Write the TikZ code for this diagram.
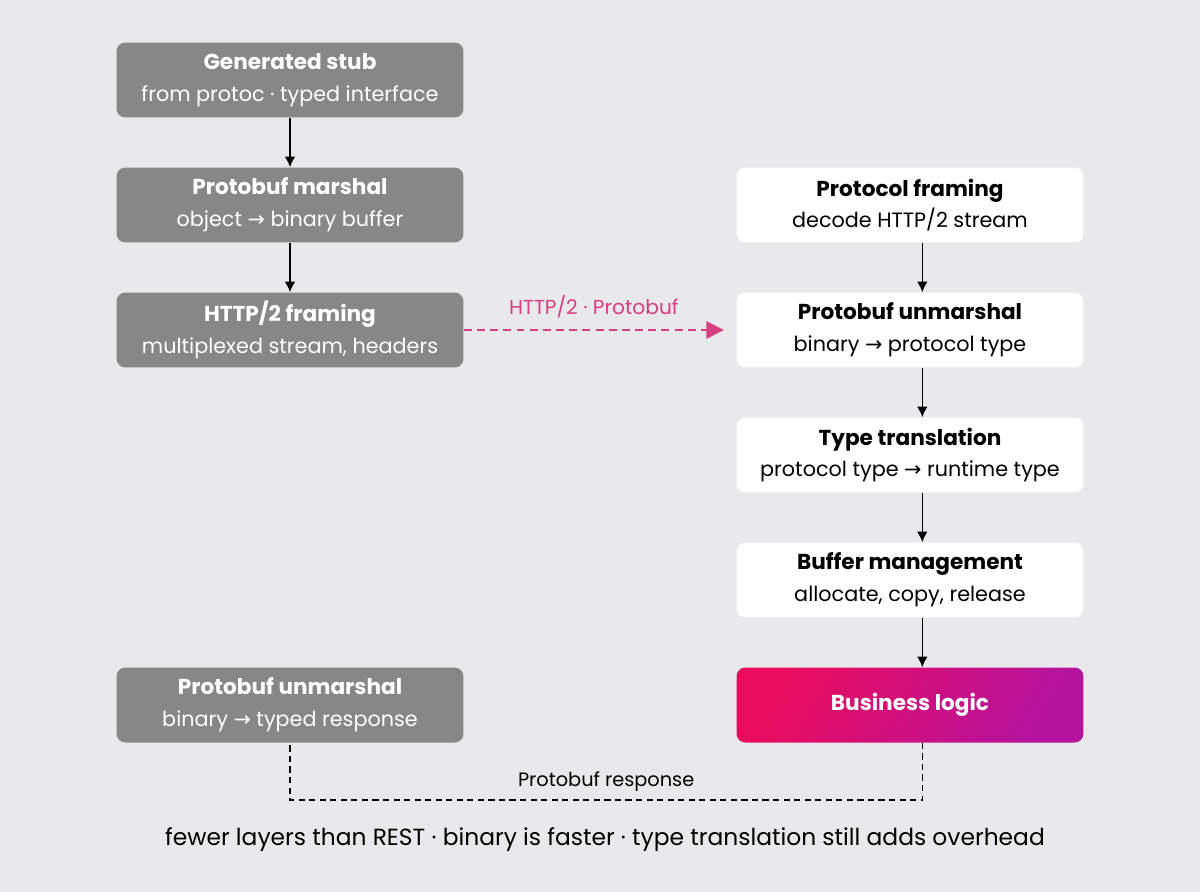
\documentclass[tikz,border=0pt]{standalone}
\usepackage{fontspec}
\setmainfont{Poppins}
\newfontfamily\symfont{DejaVu Sans}
\usepackage{tikz}
\usetikzlibrary{arrows.meta,shapes}
\definecolor{canvas}{HTML}{E9E9EB}
\definecolor{stubgray}{HTML}{878787}
\definecolor{wirepink}{HTML}{D63F80}
\definecolor{bizpink}{HTML}{E90C5C}
\definecolor{bizpurple}{HTML}{B5139F}
\newcommand{\arr}{{\symfont\char"2192}}
\newcommand{\slsh}{/}
\tikzstyle{stage}=[rectangle,rounded corners=5pt,minimum width=6.94cm,minimum height=1.5cm,align=center,inner sep=0pt,font=\fontsize{11.8}{18}\selectfont]
\tikzstyle{client}=[stage,fill=stubgray,text=white]
\tikzstyle{server}=[stage,fill=white,text=black]
\tikzstyle{flow} = [draw,thick,-{Latex[length=6pt,width=6pt]}]
\tikzstyle{ret} = [draw,thick,dash pattern=on 3.5pt off 2.5pt]

\begin{document}
\begin{tikzpicture}[x=0.02cm,y=-0.02cm]
    \fill[canvas] (0,0) rectangle (1200,892);
    \useasboundingbox (0,0) rectangle (1200,892);
    % client side (gray)
    \foreach \pos/\name/\title/\sub in {{(290,80)/gen/Generated stub/from protoc · typed interface},
        {(290,205)/marsh/Protobuf marshal/object \arr\ binary buffer},
        {(290,330)/frame/HTTP\slsh 2 framing/multiplexed stream, headers},
        {(290,705)/unm/Protobuf unmarshal/binary \arr\ typed response}}
        \node[client] (\name) at \pos {{\fontsize{12.3}{18}\selectfont\bfseries \title}\\ \sub};

    % server side (white)
    \foreach \pos/\name/\title/\sub in {{(910,205)/sframe/Protocol framing/decode HTTP\slsh 2 stream},
        {(910,330)/sunm/Protobuf unmarshal/binary \arr\ protocol type},
        {(910,455)/trans/Type translation/protocol type \arr\ runtime type},
        {(910,580)/buf/Buffer management/allocate, copy, release}}
        \node[server] (\name) at \pos {{\fontsize{12.3}{18}\selectfont\bfseries \title}\\ \sub};

    \node[stage,left color=bizpink,right color=bizpurple,shading angle=60,text=white] (biz) at (910,705) {\fontsize{12.3}{18}\selectfont\bfseries Business logic};

    % connect the stages
    \foreach \source/\dest in {gen/marsh, marsh/frame}
        \path[flow] (\source) -- (\dest);
    \foreach \source/\dest in {sframe/sunm, sunm/trans, trans/buf, buf/biz}
        \path[flow] ([xshift=7]\source.south) -- ([xshift=7]\dest.north);

    % over the wire
    \path[draw,thick,dash pattern=on 4.5pt off 3pt,wirepink,-{Triangle[length=10pt,width=10pt]}] (frame.east) -- node[above=3pt,text=wirepink] {\fontsize{11.5}{14}\selectfont HTTP/2 · Protobuf} ([xshift=-7]sunm.west);

    % response back to the client
    \path[ret] ([xshift=7]biz.south) |- node[pos=0.75,above=1pt] {\fontsize{11}{13}\selectfont Protobuf response} (unm.south |- 0,800) -- (unm.south);

    \node (note) at (605,840) {\fontsize{13.3}{16}\selectfont fewer layers than REST · binary is faster · type translation still adds overhead};
\end{tikzpicture}
\end{document}
